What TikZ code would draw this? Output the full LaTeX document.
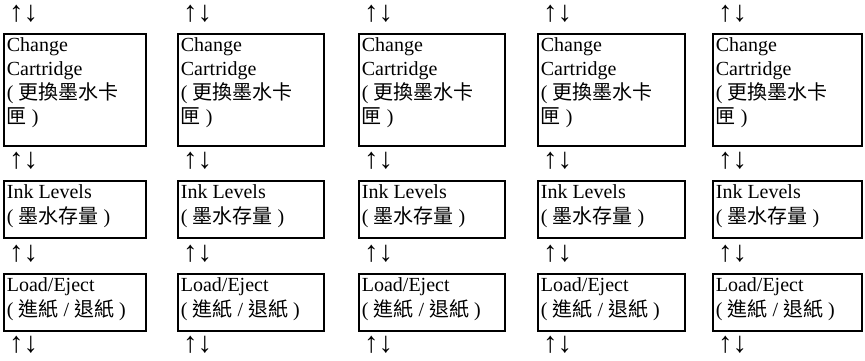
\documentclass[tikz,border=0pt]{standalone}
\usepackage{fontspec}
\setmainfont{Liberation Serif}
\newfontfamily\cjk{Noto Sans CJK TC}
\usetikzlibrary{positioning}
\tikzset{
  panel/.style={draw, line width=1.7pt, anchor=north west, inner xsep=3pt, inner ysep=1pt, font=\fontsize{20}{24}\selectfont},
  updown/.style={inner sep=0pt, font=\fontsize{29}{34}\selectfont}
}
\newcommand{\paneltext}[3]{\parbox[t][#1][t]{#2}{\raggedright\strut #3}}
\begin{document}
\begin{tikzpicture}
\useasboundingbox (0,0) rectangle (865pt,-360pt);
\foreach \i/\x/\w in {1/3/144,2/177/148,3/358/148,4/537/149,5/712/151}{
  % menu panels
  \node[panel] (cc\i) at (\x pt,-33pt) {\paneltext{110pt}{\dimexpr\w pt-7.7pt\relax}{Change\\Cartridge\\( {\cjk 更換墨水卡}\\{\cjk 匣} )}};
  \node[panel] (il\i) at (\x pt,-180pt) {\paneltext{55.3pt}{\dimexpr\w pt-7.7pt\relax}{Ink Levels\\( {\cjk 墨水存量} )}};
  \node[panel] (le\i) at (\x pt,-273pt) {\paneltext{55.3pt}{\dimexpr\w pt-7.7pt\relax}{Load/Eject\\( {\cjk 進紙} / {\cjk 退紙} )}};
  % scroll marks
  \node[updown, above right=12pt and 6pt of cc\i.north west, anchor=base west] (ua\i) {↑↓};
  \node[updown, below right=22pt and 6pt of cc\i.south west, anchor=base west] (ub\i) {↑↓};
  \node[updown, below right=22pt and 6pt of il\i.south west, anchor=base west] (uc\i) {↑↓};
  \node[updown, below right=20pt and 6pt of le\i.south west, anchor=base west] (ud\i) {↑↓};
}
\end{tikzpicture}
\end{document}
